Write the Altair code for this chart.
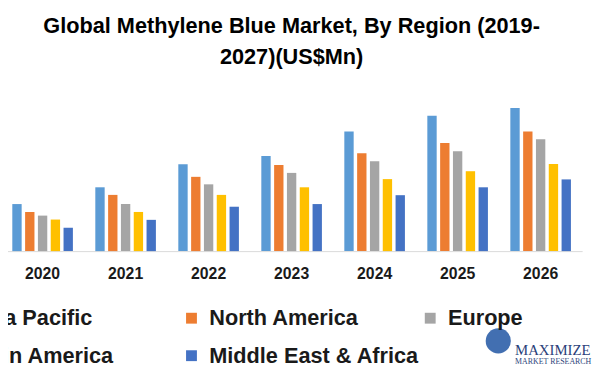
import altair as alt
import pandas as pd

years = ["2020", "2021", "2022", "2023", "2024", "2025", "2026"]
regions = ["Asia Pacific", "North America", "Europe", "Latin America", "Middle East & Africa"]
colors = ["#5B9BD5", "#ED7D31", "#A5A5A5", "#FFC000", "#4472C4"]
# legend fills column by column: this order gives rows AP/NA/EU and LA/MEA
legend_order = ["Asia Pacific", "Latin America", "North America", "Middle East & Africa", "Europe"]

asia_pacific = [4.77, 6.47, 8.80, 9.63, 12.13, 13.73, 14.50]
north_america = [3.97, 5.70, 7.53, 8.73, 9.93, 10.97, 12.13]
europe = [3.60, 4.77, 6.77, 7.93, 9.10, 10.13, 11.33]
latin_america = [3.20, 3.97, 5.70, 6.47, 7.30, 8.10, 8.83]
mea = [2.37, 3.17, 4.50, 4.77, 5.67, 6.47, 7.27]

series = [asia_pacific, north_america, europe, latin_america, mea]
rows = []
for reg, vals in zip(regions, series):
    for y, v in zip(years, vals):
        rows.append({"Year": y, "Region": reg, "Value": v})
df = pd.DataFrame(rows)

FONT = "Liberation Sans"

bars = alt.Chart(df).mark_bar().encode(
    x=alt.X("Year:N", sort=years, title=None,
            scale=alt.Scale(paddingInner=0.27, paddingOuter=0.135),
            axis=alt.Axis(labelAngle=0, ticks=False, domainColor="#D9D9D9",
                          domainWidth=1, labelFont=FONT, labelFontWeight="bold",
                          labelFontSize=16, labelColor="#1a1a1a", labelPadding=15)),
    xOffset=alt.XOffset("Region:N", sort=regions,
                        scale=alt.Scale(paddingInner=0.27, paddingOuter=0)),
    y=alt.Y("Value:Q", axis=None, scale=alt.Scale(domain=[0, 17.2])),
    color=alt.Color("Region:N",
                    scale=alt.Scale(domain=regions, range=colors),
                    legend=alt.Legend(title=None, orient="none", legendX=-60, legendY=229,
                                      values=legend_order,
                                      columns=3, gridAlign="all", columnPadding=-4,
                                      rowPadding=16, padding=0,
                                      symbolType="square", symbolSize=121,
                                      symbolStrokeWidth=0, labelOffset=7,
                                      labelFont=FONT, labelFontWeight="bold",
                                      labelFontSize=22, labelColor="#1a1a1a",
                                      labelLimit=400)),
)

logo_df = pd.DataFrame({"t": ["MAXIMIZE"]})
logo_df2 = pd.DataFrame({"t": ["MARKET RESEARCH"]})
globe = alt.Chart(logo_df).mark_circle(color="#2E5FA8", opacity=0.9, size=650).encode(
    x=alt.value(504), y=alt.value(263))
logo1 = alt.Chart(logo_df).mark_text(font="Liberation Serif", fontSize=15, color="#2B3F7A",
                                     align="left", baseline="middle").encode(
    x=alt.value(521), y=alt.value(272), text="t:N")
logo2 = alt.Chart(logo_df2).mark_text(font="Liberation Serif", fontSize=8, color="#2B3F7A",
                                      align="left", baseline="middle").encode(
    x=alt.value(521), y=alt.value(284), text="t:N")

chart = alt.layer(bars, globe, logo1, logo2).properties(
    width=589, height=172,
    title=alt.TitleParams(text=["Global Methylene Blue Market, By Region (2019-", "2027)(US$Mn)"],
                          font=FONT, fontSize=22, fontWeight="bold", color="#000000",
                          lineHeight=31, anchor="middle", offset=13),
    autosize=alt.AutoSizeParams(type="none"),
    padding={"left": -7, "top": 72, "right": 10, "bottom": 114},
).configure_view(stroke=None)

chart.save("out.html", embed_options={"renderer": "svg", "actions": False})
